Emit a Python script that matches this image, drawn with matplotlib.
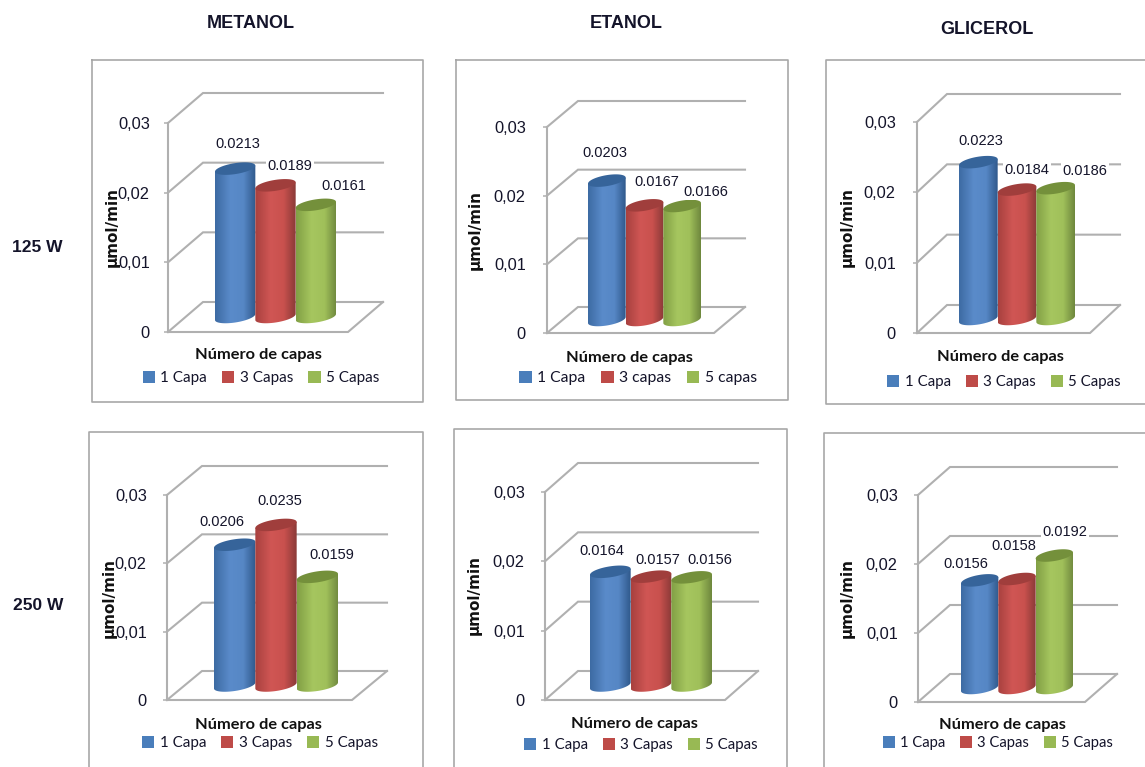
import numpy as np
import matplotlib
matplotlib.use("Agg")
import matplotlib.pyplot as plt
from matplotlib.colors import LinearSegmentedColormap
from matplotlib.lines import Line2D
from matplotlib.patches import PathPatch, Patch
from matplotlib.path import Path

W, H = 1145, 767

# chart values, one list per panel
metanol_125 = [0.0213, 0.0189, 0.0161]
etanol_125 = [0.0203, 0.0167, 0.0166]
glicerol_125 = [0.0223, 0.0184, 0.0186]
metanol_250 = [0.0206, 0.0235, 0.0159]
etanol_250 = [0.0164, 0.0157, 0.0156]
glicerol_250 = [0.0156, 0.0158, 0.0192]

column_titles = ["METANOL", "ETANOL", "GLICEROL"]
row_titles = ["125 W", "250 W"]
y_ticks = [0, 0.01, 0.02, 0.03]
y_tick_labels = ["0", "0,01", "0,02", "0,03"]
legend_caps = ["1 Capa", "3 Capas", "5 Capas"]
legend_lower = ["1 Capa", "3 capas", "5 capas"]
x_title = "Número de capas"
y_title = "µmol/min"

# layout in pixels: axis x, y of 0, y of 0.03, depth dx, depth dy, wall end,
# bars left, bars right, tick pad
panels = [
    dict(vals=metanol_125, ax_x=168, y0=332, y3=123, dx=35, dy=30, wall=383, left=215, right=336, tick=17,
         labels=[(238, 144), (290, 166), (344, 186)], ytitle=(112, 227), xtitle=(258, 355), leg=(261, 378),
         caps=legend_caps, leg_size=11.0),
    dict(vals=etanol_125, ax_x=547, y0=333, y3=127, dx=31, dy=26, wall=745, left=588, right=701, tick=20,
         labels=[(605, 153), (657, 182), (706, 192)], ytitle=(475, 230), xtitle=(629, 358), leg=(638, 378),
         caps=legend_lower, leg_size=11.3),
    dict(vals=glicerol_125, ax_x=917, y0=333, y3=122, dx=30, dy=28, wall=1120, left=959, right=1075, tick=20,
         labels=[(981, 141), (1027, 170), (1085, 171)], ytitle=(847, 227), xtitle=(1000, 357), leg=(1004, 382),
         caps=legend_caps, leg_size=10.8),
    dict(vals=metanol_250, ax_x=167, y0=700, y3=495, dx=35, dy=29, wall=387, left=214, right=338, tick=19,
         labels=[(222, 522), (280, 501), (332, 555)], ytitle=(109, 598), xtitle=(258, 725), leg=(260, 743),
         caps=legend_caps, leg_size=10.9),
    dict(vals=etanol_250, ax_x=545, y0=700, y3=492, dx=33, dy=29, wall=758, left=590, right=712, tick=19,
         labels=[(602, 551), (658, 560), (710, 560)], ytitle=(474, 595), xtitle=(634, 724), leg=(641, 745),
         caps=legend_caps, leg_size=10.8),
    dict(vals=glicerol_250, ax_x=918, y0=702, y3=495, dx=32, dy=28, wall=1117, left=961, right=1073, tick=19,
         labels=[(966, 564), (1014, 546), (1065, 532)], ytitle=(847, 598), xtitle=(1002, 725), leg=(998, 743),
         caps=legend_caps, leg_size=10.6),
]

# outer boxes of each chart, as polylines in pixels
frames = [
    [(92, 60), (423, 60), (423, 402), (92, 402), (92, 60)],
    [(456, 60), (788, 60), (788, 400), (456, 400), (456, 60)],
    [(1145, 60), (826, 60), (826, 404), (1145, 404)],
    [(89, 767), (89, 432), (423, 432), (423, 767)],
    [(454, 767), (454, 429), (787, 429), (787, 767)],
    [(824, 767), (824, 433), (1145, 433)],
]

title_pos = [(251, 24), (626, 24), (987, 29)]
row_pos = [(37, 248), (38, 605)]

bar_ramps = [
    ["#3d6ba3", "#5a8bca", "#5687c5", "#30598c"],
    ["#a8413f", "#d05654", "#c9514e", "#8b3a38"],
    ["#82a045", "#a6c65f", "#a0c05a", "#6f883e"],
]
cap_colors = ["#36649a", "#a03e3c", "#74903b"]
legend_colors = ["#4a7ebb", "#be4b48", "#98b954"]
GRID = "#b0b0b0"
FRAME = "#a8a8a8"
TEXT = "#14142a"

SANS = "Liberation Sans"


def fx(px):
    return px / W


def fy(py):
    return 1 - py / H


def cylinder(cx, base, val, half_w, b, tilt):
    t = np.linspace(0, np.pi, 60)
    # lower rim, then straight across under the cap
    lower_x = cx - half_w * np.cos(t)
    lower_y = base - b * np.sin(t) + tilt * (lower_x - cx) / half_w
    top_x = lower_x[::-1]
    top_y = base + val + tilt * (top_x - cx) / half_w
    verts = np.vstack([np.column_stack([lower_x, lower_y]), np.column_stack([top_x, top_y]),
                       [[lower_x[0], lower_y[0]]]])
    return Path(verts, closed=True)


fig = plt.figure(figsize=(W / 100, H / 100), dpi=100, facecolor="white")

for poly in frames:
    xs = [fx(p[0]) for p in poly]
    ys = [fy(p[1]) for p in poly]
    fig.add_artist(Line2D(xs, ys, color=FRAME, lw=1.2, transform=fig.transFigure, zorder=-1))

for name, (x, y) in zip(column_titles, title_pos):
    fig.text(fx(x), fy(y), name, family=SANS, weight="bold", fontsize=13, color=TEXT, ha="center", va="center")
for name, (x, y) in zip(row_titles, row_pos):
    fig.text(fx(x), fy(y), name, family=SANS, weight="bold", fontsize=12.5, color=TEXT, ha="center", va="center")

for p in panels:
    floor_right = p["wall"] - p["dx"]
    n = len(p["vals"])
    w = (p["right"] - p["left"]) / n
    px_per_val = (p["y0"] - p["y3"]) / 0.03

    ax = fig.add_axes([fx(p["ax_x"]), fy(p["y0"]), (floor_right - p["ax_x"]) / W, (p["y0"] - p["y3"]) / H])
    ax.patch.set_visible(False)
    c0 = p["left"] + w / 2 - p["dx"] / 2
    xmin = -(c0 - p["ax_x"]) / w
    xmax = xmin + (floor_right - p["ax_x"]) / w
    ax.set_xlim(xmin, xmax)
    ax.set_ylim(0, 0.03)
    ax.autoscale(False)

    # depth offset of the back wall, in data units
    ddx = p["dx"] / w
    ddy = p["dy"] / px_per_val

    # wall gridlines and floor
    line = dict(color=GRID, lw=1.5, clip_on=False, solid_joinstyle="miter", zorder=1)
    for v in y_ticks:
        ax.plot([xmin, xmin + ddx, xmax + ddx], [v, v + ddy, v + ddy], **line)
    ax.plot([xmin, xmin], [0, 0.03], **line)
    ax.plot([xmin, xmax, xmax + ddx], [0, 0, ddy], **line)

    for s in ax.spines.values():
        s.set_visible(False)
    ax.set_xticks([])
    ax.set_yticks(y_ticks)
    ax.set_yticklabels(y_tick_labels, family=SANS, fontsize=11.8, color=TEXT)
    ax.tick_params(axis="y", length=3, width=1.1, color=GRID, pad=(p["tick"] - 3) * 0.72)

    # cylinders, later ones overlap earlier ones
    half_w = 0.5
    b = 5.5 / px_per_val
    tilt = 3 / px_per_val
    base = ddy / 2
    for i, v in enumerate(p["vals"]):
        cx = i + ddx / 2
        body = PathPatch(cylinder(cx, base, v, half_w, b, tilt), transform=ax.transData, fc="none", ec="none")
        ax.add_patch(body)
        cmap = LinearSegmentedColormap.from_list("ramp", list(zip([0, 0.38, 0.7, 1], bar_ramps[i])))
        im = ax.imshow(np.linspace(0, 1, 64)[None, :], extent=(cx - half_w, cx + half_w, 0, 0.03), aspect="auto",
                       cmap=cmap, zorder=2 + i, interpolation="bilinear")
        im.set_clip_path(body)
        t = np.linspace(0, 2 * np.pi, 80)
        cap_x = cx + half_w * np.cos(t)
        cap_y = base + v + b * np.sin(t) + tilt * np.cos(t)
        ax.fill(cap_x, cap_y, color=cap_colors[i], lw=0, zorder=2 + i + 0.5)
        lx, ly = p["labels"][i]
        fig.text(fx(lx), fy(ly), f"{v:.4f}", family=SANS, fontsize=10.5, color=TEXT, ha="center", va="center", zorder=5,
                 bbox=dict(fc="white", ec="none", pad=1))

    fig.text(fx(p["ytitle"][0]), fy(p["ytitle"][1]), y_title, family="DejaVu Sans", weight="bold", fontsize=11,
             rotation=90, color="#111111", ha="center", va="center", zorder=6)
    fig.text(fx(p["xtitle"][0]), fy(p["xtitle"][1]), x_title, family="Lato", weight="bold", fontsize=11.8,
             color="#111111", ha="center", va="center")
    handles = [Patch(fc=c, ec="none") for c in legend_colors]
    fig.legend(handles, p["caps"], loc="center", bbox_to_anchor=(fx(p["leg"][0]), fy(p["leg"][1])), ncol=3,
               frameon=False, prop={"family": "Lato", "size": p["leg_size"]}, labelcolor=TEXT, handlelength=0.8,
               handleheight=0.8, handletextpad=0.35, columnspacing=1.0, borderpad=0, borderaxespad=0)

fig.savefig("out.png", dpi=100)
